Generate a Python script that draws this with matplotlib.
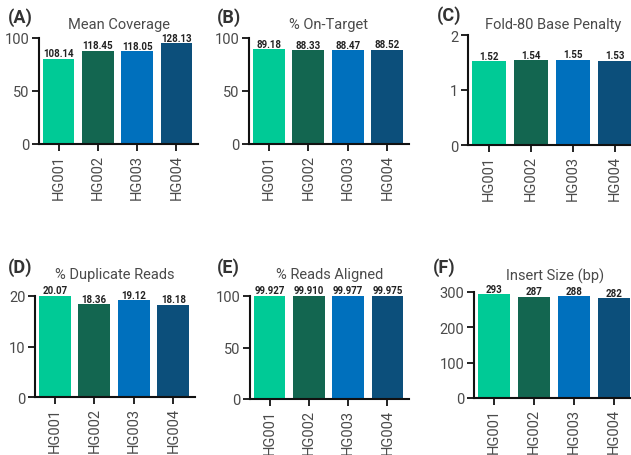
import matplotlib
matplotlib.use("Agg")
import matplotlib.pyplot as plt

plt.rcParams['font.family'] = ['Roboto', 'DejaVu Sans']

samples = ["HG001", "HG002", "HG003", "HG004"]
colors = ["#00CA96", "#136650", "#0070BD", "#0C4F7B"]

mean_coverage = [108.14, 118.45, 118.05, 128.13]
on_target = [89.18, 88.33, 88.47, 88.52]
fold80 = [1.52, 1.54, 1.55, 1.53]
duplicates = [20.07, 18.36, 19.12, 18.18]
aligned = [99.927, 99.910, 99.977, 99.975]
insert_size = [293, 287, 288, 282]

W, H = 631, 456

# letter, title, values, fmt, ylim top, ticks, ticklabels,
# axes box px (left, right, top, bottom), letter xy px, title baseline y px
panels = [
    ("(A)", "Mean Coverage", mean_coverage, "{:.2f}", 135, [0, 67.5, 135], ["0", "50", "100"],
     (39, 198, 39, 145), (8, 18), 29),
    ("(B)", "% On-Target", on_target, "{:.2f}", 100, [0, 50, 100], ["0", "50", "100"],
     (249, 409, 39, 145), (217, 18), 29),
    ("(C)", "Fold-80 Base Penalty", fold80, "{:.2f}", 2, [0, 1, 2], ["0", "1", "2"],
     (468, 638, 36, 146), (437, 16), 29),
    ("(D)", "% Duplicate Reads", duplicates, "{:.2f}", 20, [0, 10, 20], ["0", "10", "20"],
     (35, 195, 297, 398), (8, 268), 279),
    ("(E)", "% Reads Aligned", aligned, "{:.3f}", 100, [0, 50, 100], ["0", "50", "100"],
     (250, 409, 297, 400), (217, 268), 279),
    ("(F)", "Insert Size (bp)", insert_size, "{:.0f}", 300, [0, 100, 200, 300], ["0", "100", "200", "300"],
     (474, 636, 293, 399), (433, 268), 281),
]

fig = plt.figure(figsize=(W / 100, H / 100), dpi=100)

for letter, title, vals, fmt, top, ticks, tlabels, (l, r, t, b), (lx, ly), ty in panels:
    ax = fig.add_axes([l / W, 1 - b / H, (r - l) / W, (b - t) / H])
    x = range(len(samples))
    ax.bar(x, vals, width=0.8, color=colors, clip_on=False)
    for xi, v in zip(x, vals):
        ax.annotate(fmt.format(v), (xi, v), xytext=(0, 0.5), textcoords="offset points",
                    ha="center", va="bottom", fontsize=7, fontweight="bold", color="#222222")
    ax.set_xlim(-0.5, 3.55)
    ax.set_ylim(0, top)
    ax.set_yticks(ticks)
    ax.set_yticklabels(tlabels)
    ax.set_xticks(list(x))
    ax.set_xticklabels(samples, rotation=90)
    ax.tick_params(axis="both", labelsize=10.5, labelcolor="#4a4a4a", length=5, width=1.3,
                   color="#111111", pad=2)
    for side in ["top", "right"]:
        ax.spines[side].set_visible(False)
    for side in ["left", "bottom"]:
        ax.spines[side].set_linewidth(1.5)
        ax.spines[side].set_color("#111111")
    fig.text((l + r) / 2 / W, 1 - ty / H, title, fontsize=10.5, color="#4a4a4a",
             ha="center", va="baseline")
    fig.text(lx / W, 1 - ly / H, letter, fontsize=13, fontweight="bold",
             color="#333333", ha="left", va="center")

fig.savefig("out.png", dpi=100)
